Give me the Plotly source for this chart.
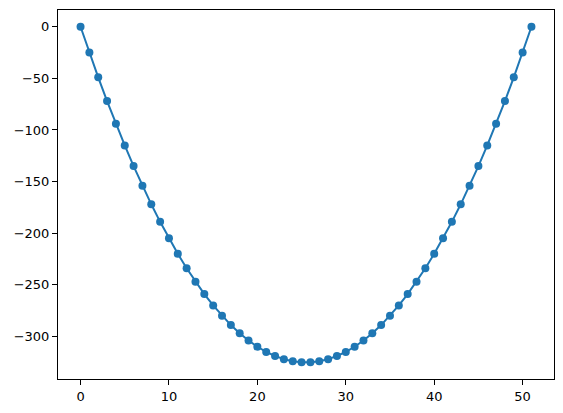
import plotly.graph_objects as go

x_values = list(range(52))
y_values = [0, -25, -49, -72, -94, -115, -135, -154, -172, -189, -205, -220, -234,
            -247, -259, -270, -280, -289, -297, -304, -310, -315, -319, -322, -324,
            -325, -325, -324, -322, -319, -315, -310, -304, -297, -289, -280, -270,
            -259, -247, -234, -220, -205, -189, -172, -154, -135, -115, -94, -72,
            -49, -25, 0]
x_ticks = [0, 10, 20, 30, 40, 50]
y_ticks = [0, -50, -100, -150, -200, -250, -300]

fig = go.Figure(go.Scatter(
    x=x_values, y=y_values, mode="lines+markers",
    line=dict(color="#1f77b4", width=2),
    marker=dict(color="#1f77b4", size=8),
))

axis_common = dict(
    showgrid=False, zeroline=False, showline=True, linecolor="black", linewidth=1,
    mirror=True, ticks="outside", ticklen=5, tickwidth=1, tickcolor="black",
    tickfont=dict(family="DejaVu Sans", size=13, color="black"),
)
fig.update_xaxes(range=[-2.55, 53.55], tickvals=x_ticks, **axis_common)
fig.update_yaxes(range=[-341.25, 16.25], tickvals=y_ticks, **axis_common)

fig.update_layout(
    width=563, height=413,
    margin=dict(l=58, r=9, t=10, b=34),
    plot_bgcolor="white", paper_bgcolor="white",
    showlegend=False,
)
fig.write_html(
    "out.html",
    config={"displayModeBar": False},
    post_script="document.body.style.margin='0';document.body.style.overflow='hidden';",
)
